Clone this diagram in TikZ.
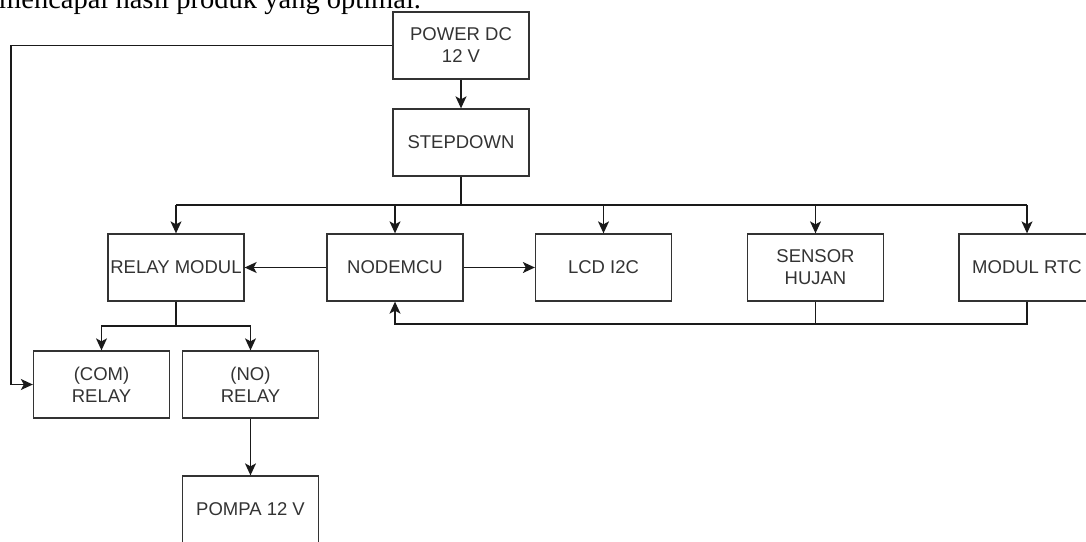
\documentclass[tikz,border=0pt]{standalone}
\usepackage{fontspec}
\setmainfont{Liberation Sans}
\newfontfamily\serifbody{Liberation Serif}
\usetikzlibrary{arrows.meta}
\definecolor{boxline}{HTML}{333333}
\definecolor{boxtext}{HTML}{333333}
\definecolor{wire}{HTML}{1A1A1A}
\tikzset{
  blk/.style={draw=boxline, line width=1.3pt, minimum width=136pt, minimum height=67pt,
    inner sep=0pt, align=center, text=boxtext, font=\fontsize{18.5}{22}\selectfont},
  wirel/.style={draw=wire, line width=1.3pt},
  arr/.style={wirel, -{Stealth[length=12pt,width=11pt,inset=3pt]}}
}
\begin{document}
\begin{tikzpicture}[x=1pt,y=-1pt]
\useasboundingbox (0,0) rectangle (1086,541);
\clip (0,0) rectangle (1086,541);
\node[anchor=base west, inner sep=0pt, font=\fontsize{28.5}{28.5}\selectfont\serifbody] (cap) at (-1,8) {mencapai hasil produk yang optimal.};
\node[blk] (power) at (461,45.5) {POWER DC\\12 V};
\node[blk] (step) at (461,142.5) {STEPDOWN};
\node[blk] (relay) at (176,267.5) {RELAY MODUL};
\node[blk] (node) at (395,267.5) {NODEMCU};
\node[blk] (lcd) at (603.5,267.5) {LCD I2C};
\node[blk] (sensor) at (815.5,267.5) {SENSOR\\HUJAN};
\node[blk] (rtc) at (1027,267.5) {MODUL RTC};
\node[blk] (com) at (101.5,384.5) {(COM)\\RELAY};
\node[blk] (no) at (250.5,384.5) {(NO)\\RELAY};
\node[blk] (pompa) at (250.5,509.5) {POMPA 12 V};
% junctions
\coordinate (busc) at (461,205);
\coordinate (busl) at (176,205);
\coordinate (busr) at (1027,205);
\coordinate (rsplit) at (176,326);
\coordinate (lefttop) at (11,45.5);
\coordinate (leftbot) at (11,384.5);
\coordinate (fb) at (1027,324);
% connectors
\draw[arr] (power.south) -- (step.north);
\draw[wirel] (step.south) -- (busc);
\draw[wirel] (busl) -- (busr);
\draw[arr] (busl) -- (relay.north);
\draw[arr] (busl -| node) -- (node.north);
\draw[arr] (busl -| lcd) -- (lcd.north);
\draw[arr] (busl -| sensor) -- (sensor.north);
\draw[arr] (busr) -- (rtc.north);
\draw[arr] (node.west) -- (relay.east);
\draw[arr] (node.east) -- (lcd.west);
\draw[wirel] (relay.south) -- (rsplit);
\draw[arr] (rsplit) -| (com.north);
\draw[arr] (rsplit) -| (no.north);
\draw[arr] (power.west) -- (lefttop) -- (leftbot) -- (com.west);
\draw[wirel] (sensor.south) -- (fb -| sensor);
\draw[arr] (rtc.south) -- (fb) -| (node.south);
\draw[arr] (no.south) -- (pompa.north);
\end{tikzpicture}
\end{document}
